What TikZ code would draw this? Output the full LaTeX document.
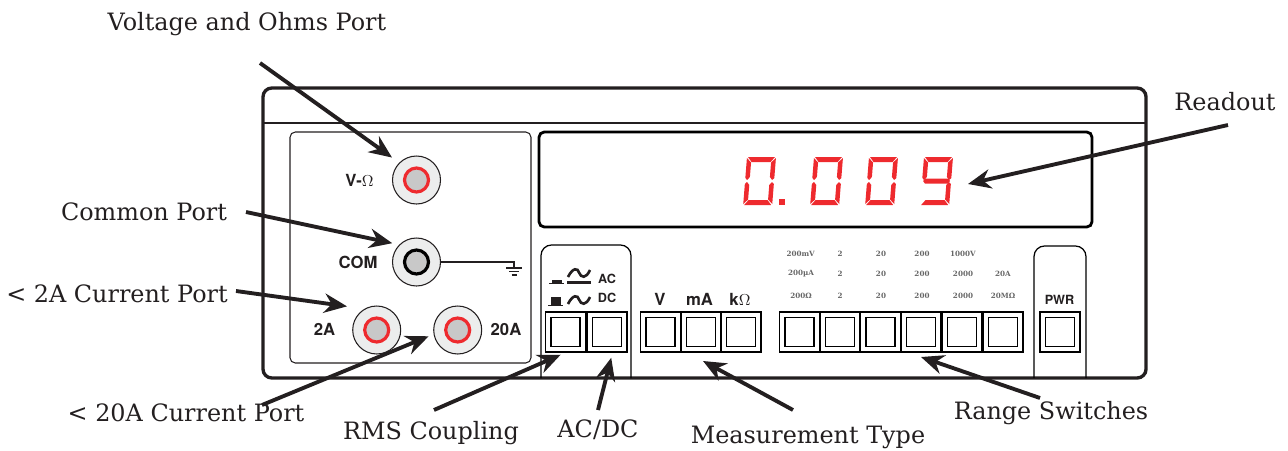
\documentclass[tikz,border=0pt]{standalone}
\usepackage{fontspec}
\setmainfont{DejaVu Serif}
\setsansfont{TeX Gyre Heros}
\usetikzlibrary{arrows.meta}
\definecolor{inkblack}{HTML}{231F20}
\definecolor{readred}{HTML}{EE2A2E}
\definecolor{jackface}{HTML}{ECEDED}
\definecolor{jackcore}{HTML}{C8C8C8}
\tikzset{
  portlabel/.style={font=\fontsize{13.6}{16}\selectfont,text=inkblack},
  facelabel/.style={font=\fontsize{9.5}{11}\selectfont\sffamily\bfseries,text=inkblack},
  smalllabel/.style={font=\fontsize{7.2}{9}\selectfont\sffamily\bfseries,text=inkblack},
  rangelabel/.style={font=\fontsize{4.1}{5}\selectfont\bfseries,text=black!60!white},
  pointer/.style={-{Stealth[length=13pt,width=11pt]},line width=2.2pt,draw=inkblack},
  jack/.style={circle,draw=inkblack,line width=0.6pt,fill=jackface,minimum size=0.96cm,inner sep=0pt},
  jackring/.style={circle,draw=#1,line width=1.8pt,fill=jackcore,minimum size=0.48cm,inner sep=0pt},
  swouter/.style={rectangle,draw=black,line width=0.7pt,fill=white,minimum size=0.8cm,inner sep=0pt},
  swinner/.style={rectangle,draw=black,line width=1pt,minimum size=0.58cm,inner sep=0pt}
}
\def\sega{(1,0)--(28,0)--(24,5)--(5,5)--cycle}
\def\segb{(29,1)--(29,21)--(27,23)--(24.5,20)--(24.5,5.5)--cycle}
\def\segc{(29,27)--(29,47)--(24.5,42.5)--(24.5,28)--(27,25)--cycle}
\def\segd{(1,48)--(5,43)--(24,43)--(28,48)--cycle}
\def\sege{(0,27)--(2,25)--(4.5,28)--(4.5,42.5)--(0,47)--cycle}
\def\segf{(0,1)--(4.5,5.5)--(4.5,20)--(2,23)--(0,21)--cycle}
\def\segg{(3,21.5)--(26,21.5)--(28,24)--(26,26.5)--(3,26.5)--(1,24)--cycle}
\newcommand{\readdigit}[2]{%
  \begin{scope}[shift={(#1,157)},xslant=0.08]
    \foreach \s in {#2} {\fill[readred] \s;}
  \end{scope}}
\begin{document}
\begin{tikzpicture}[x=0.02cm,y=-0.02cm]
  \useasboundingbox (0,0) rectangle (1288,450);

  \draw[line width=1.9pt,draw=inkblack,rounded corners=5pt] (263,88) rectangle (1146,378);
  \draw[line width=0.6pt,draw=inkblack] (263,123) -- (1146,123);
  \draw[line width=0.6pt,draw=inkblack,rounded corners=3pt] (290,132) rectangle (531,363);
  \draw[line width=1.6pt,draw=black,rounded corners=3pt] (539,132) rectangle (1092,227);
  \draw[line width=0.7pt,draw=black,rounded corners=6pt] (541,378) -- (541,245) -- (631,245) -- (631,378);
  \draw[line width=0.7pt,draw=black,rounded corners=6pt] (1034,378) -- (1034,246) -- (1086,246) -- (1086,378);

  \readdigit{747}{\sega,\segb,\segc,\segd,\sege,\segf}
  \readdigit{814}{\sega,\segb,\segc,\segd,\sege,\segf}
  \readdigit{869}{\sega,\segb,\segc,\segd,\sege,\segf}
  \readdigit{924}{\sega,\segb,\segc,\segd,\segf,\segg}
  \fill[readred] (779,199) rectangle (785,205);

  \node[jack] (voltjack) at (416.5,180) {};
  \node[jackring=readred] (voltring) at (voltjack) {};
  \node[jack] (comjack) at (416.5,262) {};
  \node[jackring=black] (comring) at (comjack) {};
  \node[jack] (twojack) at (376.7,330) {};
  \node[jackring=readred] (tworing) at (twojack) {};
  \node[jack] (twentyjack) at (457.7,330) {};
  \node[jackring=readred] (twentyring) at (twentyjack) {};

  \node[facelabel] (voltface) at (359.5,180) {V-$\Omega$};
  \node[facelabel] (comface) at (358,262) {COM};
  \node[facelabel] (twoface) at (324.5,329.5) {2A};
  \node[facelabel] (twentyface) at (506,329.5) {20A};

  \coordinate (groundtop) at (514,262);
  \draw[line width=0.6pt,draw=inkblack] (comjack) ++(24,0) -- (groundtop) -- +(0,6);
  \draw[line width=0.6pt,draw=inkblack] (506,268) -- (522,268);
  \draw[line width=0.6pt,draw=inkblack] (509,271.5) -- (519,271.5);
  \draw[line width=0.6pt,draw=inkblack] (511.5,275) -- (516.5,275);

  \foreach \i/\x in {1/565.5,2/607,3/660.5,4/701,5/741,6/799.5,7/840,8/880.5,9/921,10/962,11/1003,12/1060}{
    \node[swouter] (sw\i) at (\x,332) {};
    \node[swinner] (swin\i) at (sw\i) {};
  }

  \node[facelabel] (vface) at (660,299.5) {V};
  \node[facelabel] (maface) at (699.5,299.5) {mA};
  \node[facelabel] (kohmface) at (740,299.5) {k$\Omega$};
  \node[smalllabel] (acface) at (607,279) {AC};
  \node[smalllabel] (dcface) at (607,297.5) {DC};
  \node[smalllabel] (pwrface) at (1059.5,300) {PWR};

  \fill[inkblack] (549,282.5) rectangle (564,284);
  \fill[inkblack] (552,279.5) rectangle (562,284);
  \fill[inkblack] (567,281) rectangle (591,283.5);
  \draw[line width=1.5pt,draw=inkblack] (568,277) .. controls (573,267) and (578,268) .. (579,272.5) .. controls (581,278) and (586,279) .. (590,270);
  \fill[inkblack] (548,304.5) rectangle (563,306);
  \fill[inkblack] (551,297) rectangle (561,306);
  \draw[line width=1.5pt,draw=inkblack] (568,304) .. controls (573,294) and (578,295) .. (579,299.5) .. controls (581,305) and (586,306) .. (590,297);

  \foreach \i/\x/\t in {1/800.7/200mV,2/840/2,3/881/20,4/922/200,5/963/1000V}
    \node[rangelabel] (rangea\i) at (\x,254) {\t};
  \foreach \i/\x/\t in {1/801/200µA,2/840/2,3/881/20,4/922/200,5/963/2000,6/1003/20A}
    \node[rangelabel] (rangeb\i) at (\x,274) {\t};
  \foreach \i/\x/\t in {1/801/200Ω,2/840/2,3/881/20,4/922/200,5/963/2000,6/1003/20MΩ}
    \node[rangelabel] (rangec\i) at (\x,296) {\t};

  \node[portlabel] (ohmslabel) at (247,24) {Voltage and Ohms Port};
  \node[portlabel] (readlabel) at (1225,102) {Readout};
  \node[portlabel] (comlabel) at (144,212) {Common Port};
  \node[portlabel] (twolabel) at (117,294) {< 2A Current Port};
  \node[portlabel] (twentylabel) at (186,413) {< 20A Current Port};
  \node[portlabel] (rmslabel) at (431,433) {RMS Coupling};
  \node[portlabel] (acdclabel) at (598,430) {AC/DC};
  \node[portlabel] (typelabel) at (808,437) {Measurement Type};
  \node[portlabel] (rangelabel) at (1051,413) {Range Switches};

  \coordinate (ohmstail) at (260,63);
  \coordinate (comtail) at (246,212);
  \coordinate (twotail) at (236,291);
  \coordinate (twentytail) at (262,405);
  \coordinate (rmstail) at (434,410);
  \coordinate (acdctail) at (598,410);
  \coordinate (typetail) at (793,410);
  \coordinate (typetip) at (703,361);
  \coordinate (rangetail) at (1040,398);
  \coordinate (rangetip) at (921,357);
  \coordinate (readtail) at (1228,125);
  \coordinate (readtip) at (968,184);

  \draw[pointer,shorten >=5pt] (ohmstail) -- (voltjack.135);
  \draw[pointer,shorten >=4pt] (comtail) -- (comjack.135);
  \draw[pointer,shorten >=10pt] (twotail) -- (twojack.120);
  \draw[pointer,shorten >=3pt] (twentytail) -- (twentyjack.190);
  \draw[pointer,shorten >=3pt] (rmstail) -- (sw1.south);
  \draw[pointer,shorten >=3pt] (acdctail) -- (sw2.-75);
  \draw[pointer] (typetail) -- (typetip);
  \draw[pointer] (rangetail) -- (rangetip);
  \draw[pointer] (readtail) -- (readtip);
\end{tikzpicture}
\end{document}
